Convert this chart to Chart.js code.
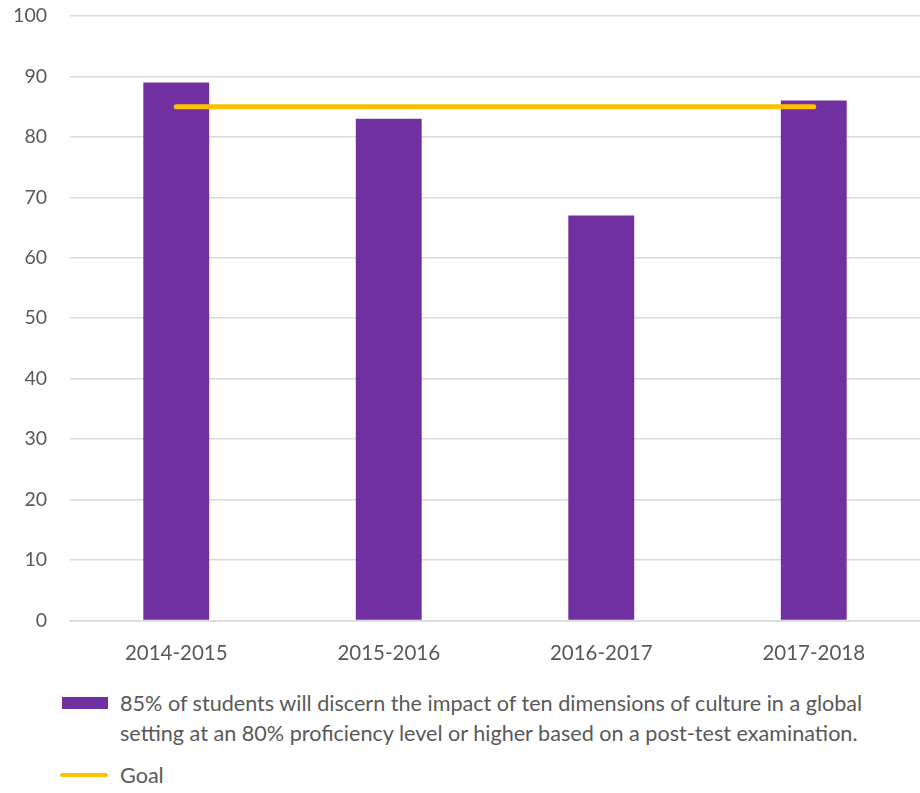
<!DOCTYPE html>
<html>
<head>
<meta charset="utf-8">
<script src="https://cdn.jsdelivr.net/npm/chart.js@4"></script>
<style>
  body { margin: 0; background: #fff; font-family: Lato, "Open Sans", sans-serif; color: #595959; }
  #wrap { position: relative; width: 920px; height: 679px; }
  #legend { position: absolute; left: 0; top: 688px; width: 920px; font-size: 21.6px; }
  .item { position: relative; margin-left: 120px; width: 795px; line-height: 30px; margin-bottom: 12px; }
  .swatch { position: absolute; left: -58px; }
</style>
</head>
<body>
<div id="wrap"><canvas id="c"></canvas></div>
<div id="legend"></div>
<script>
const labels = ['2014-2015', '2015-2016', '2016-2017', '2017-2018'];
const results = [89, 83, 67, 86];
const goal = [85, 85, 85, 85];
const resultLabel = '85% of students will discern the impact of ten dimensions of culture in a global setting at an 80% proficiency level or higher based on a post-test examination.';
const goalLabel = 'Goal';

const purple = '#7030A0';
const gold = '#FFC000';
const grid = '#D9D9D9';

const chart = new Chart(document.getElementById('c'), {
  data: {
    labels,
    datasets: [
      {
        type: 'line',
        label: goalLabel,
        data: goal,
        borderColor: gold,
        borderWidth: 5,
        borderCapStyle: 'round',
        pointRadius: 0,
        order: 0,
      },
      {
        type: 'bar',
        label: resultLabel,
        data: results,
        backgroundColor: purple,
        barPercentage: 0.62,
        categoryPercentage: 0.5,
        order: 1,
      },
    ],
  },
  options: {
    responsive: true,
    maintainAspectRatio: false,
    animation: false,
    layout: { padding: { top: 16, right: 0 } },
    plugins: { legend: { display: false }, tooltip: { enabled: false } },
    scales: {
      x: {
        grid: { display: false },
        border: { color: grid, width: 1.5 },
        ticks: { color: '#595959', font: { family: 'Lato', size: 20.5 }, padding: 13 },
      },
      y: {
        min: 0,
        max: 100,
        ticks: { stepSize: 10, color: '#595959', font: { family: 'Lato', size: 19.5 }, padding: 23 },
        grid: { color: grid, lineWidth: 1.5, drawTicks: false },
        border: { display: false },
        afterFit(scale) {
          scale.width = 70;
          scale.paddingTop = 10;
          scale.paddingBottom = 10;
        },
      },
    },
  },
});

// legend below the chart, from the chart's datasets
const legend = document.getElementById('legend');
const barDs = chart.data.datasets[1];
const lineDs = chart.data.datasets[0];
legend.innerHTML =
  `<div class="item"><span class="swatch" style="top:9px;width:46px;height:12px;background:${barDs.backgroundColor}"></span>${barDs.label}</div>` +
  `<div class="item"><span class="swatch" style="left:-60px;top:13px;width:48px;height:4px;border-radius:2px;background:${lineDs.borderColor}"></span>${lineDs.label}</div>`;
</script>
</body>
</html>
